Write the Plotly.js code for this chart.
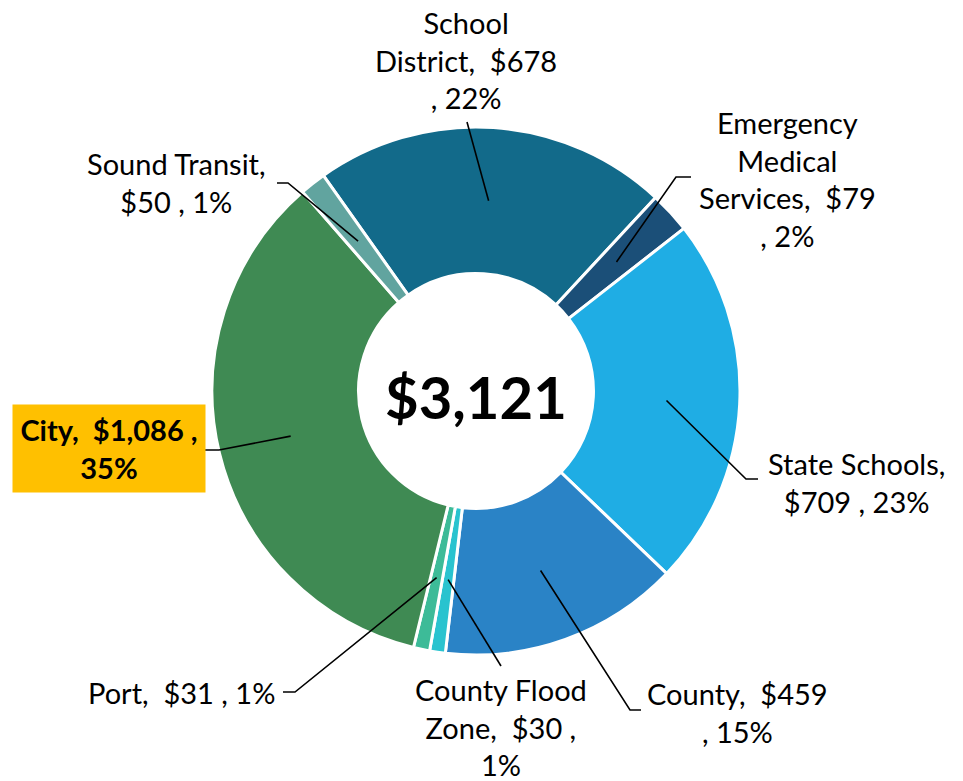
<!DOCTYPE html>
<html>
<head>
<meta charset="utf-8">
<script src="https://cdn.plot.ly/plotly-3.0.1.min.js"></script>
<style>html,body{margin:0;padding:0;background:#fff;}#chart{width:963px;height:781px;}</style>
</head>
<body>
<div id="chart"></div>
<script>
// ---- data ----
const categories = ['School District', 'Emergency Medical Services', 'State Schools', 'County', 'County Flood Zone', 'Port', 'City', 'Sound Transit'];
const values = [678, 79, 709, 459, 30, 31, 1086, 50];
const valueLabels = ['$678', '$79', '$709', '$459', '$30', '$31', '$1,086', '$50'];
const percentLabels = ['22%', '2%', '23%', '15%', '1%', '1%', '35%', '1%'];
const totalLabel = '$3,121';
// line-broken label texts as they appear in the chart
const labelTexts = [
  'School<br>District,  $678<br>, 22%',
  'Emergency<br>Medical<br>Services,  $79<br>, 2%',
  'State Schools,<br>$709 , 23%',
  'County,  $459<br>, 15%',
  'County Flood<br>Zone,  $30 ,<br>1%',
  'Port,  $31 , 1%',
  'City,  $1,086 ,<br>35%',
  'Sound Transit,<br>$50 , 1%'
];
const colors = ['#126A8A', '#1B4F78', '#1FADE4', '#2A83C6', '#29C3CF', '#3DBB98', '#3F8A53', '#61A49F'];

// ---- layout constants (pixels) ----
const W = 963, H = 781;
const CX = 476, CY = 391, R = 264;
const HOLE = 0.445;
const ROT = -35.3;
const FONT = 'Lato, "Open Sans", sans-serif';
// label block centres and leader-line elbow / end points (pixels)
const labelPos = [[466, 60], [787, 179], [856, 482], [737, 712], [501, 727], [181, 692], [109, 448], [176, 182]];
const leaderPts = [
  [[467, 122]],
  [[676, 177], [691, 177]],
  [[746, 479], [758, 479]],
  [[630, 710], [641, 710]],
  [[501, 666]],
  [[295, 692], [283, 692]],
  [[219, 450], [205, 450]],
  [[288, 183], [277, 183]]
];

const px = x => x / W;
const py = y => 1 - y / H;

const total = values.reduce((a, b) => a + b, 0);
const trace = {
  type: 'pie',
  labels: categories,
  values: values,
  sort: false,
  direction: 'clockwise',
  rotation: ROT,
  hole: HOLE,
  textinfo: 'none',
  hoverinfo: 'label+value+percent',
  marker: { colors: colors, line: { color: '#ffffff', width: 3 } },
  domain: { x: [px(CX - R), px(CX + R)], y: [py(CY + R), py(CY - R)] },
  showlegend: false
};

const annotations = [];
const shapes = [];
let cum = 0;
values.forEach((v, i) => {
  const mid = (ROT + (cum + v / 2) / total * 360) * Math.PI / 180;
  cum += v;
  const rr = R * (1 + HOLE) / 2;
  const ix = CX + rr * Math.sin(mid), iy = CY - rr * Math.cos(mid);
  let path = 'M ' + px(ix) + ',' + py(iy);
  leaderPts[i].forEach(p => { path += ' L ' + px(p[0]) + ',' + py(p[1]); });
  shapes.push({ type: 'path', xref: 'paper', yref: 'paper', path: path, line: { color: '#000000', width: 1.6 } });
  const isCity = categories[i] === 'City';
  const ann = {
    xref: 'paper', yref: 'paper', x: px(labelPos[i][0]), y: py(labelPos[i][1]),
    xanchor: 'center', yanchor: 'middle', showarrow: false, align: 'center',
    text: isCity ? '<b>' + labelTexts[i].replace('<br>', '</b><br><b>') + '</b>' : labelTexts[i],
    font: { family: FONT, size: 29, color: '#000000' }
  };
  if (isCity) {
    ann.bgcolor = '#FFC000';
    ann.width = 184;
    ann.height = 79;
    ann.borderpad = 4;
  }
  annotations.push(ann);
});
annotations.push({
  xref: 'paper', yref: 'paper', x: px(CX), y: py(396), xanchor: 'center', yanchor: 'middle',
  showarrow: false, text: '<b>' + totalLabel + '</b>',
  font: { family: FONT, size: 58, color: '#000000' }
});

const layout = {
  width: W, height: H,
  margin: { l: 0, r: 0, t: 0, b: 0 },
  paper_bgcolor: '#ffffff', plot_bgcolor: '#ffffff',
  annotations: annotations,
  shapes: shapes,
  showlegend: false
};
Plotly.newPlot('chart', [trace], layout, { displayModeBar: false, staticPlot: true });
</script>
</body>
</html>
